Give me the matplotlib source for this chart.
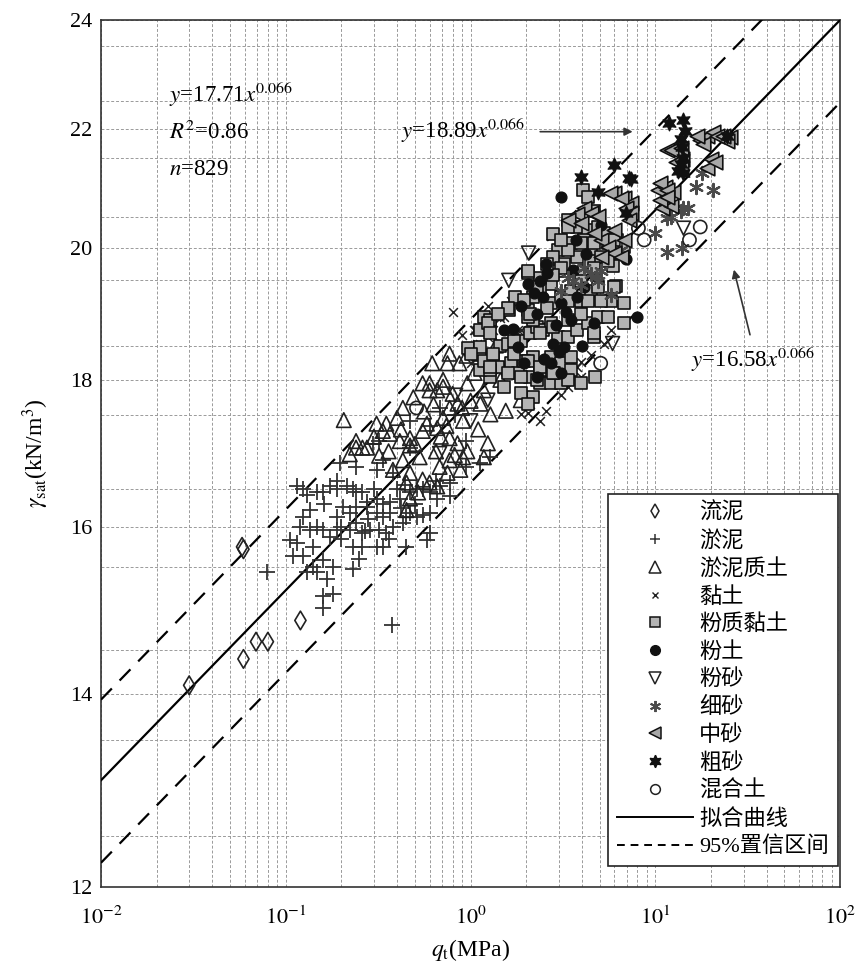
import numpy as np
import matplotlib.pyplot as plt
from matplotlib.lines import Line2D
from matplotlib.ticker import FixedLocator, LogLocator, NullFormatter, FuncFormatter

plt.rcParams['font.family'] = ['Liberation Serif', 'Noto Sans CJK SC']
plt.rcParams['mathtext.fontset'] = 'stix'

# ---- data: q_t (MPa), gamma_sat (kN/m3) ----
# 流泥
liuni_q = [0.030, 0.058, 0.059, 0.059, 0.069, 0.080, 0.12]
liuni_g = [14.1, 15.75, 15.72, 14.4, 14.6, 14.6, 14.85]

# 淤泥
yuni_q = [0.115, 0.124, 0.13, 0.159, 0.173, 0.189, 0.214, 0.23, 0.26, 0.31, 0.335, 0.366, 0.414, 0.47,
          0.51, 0.55, 0.60, 0.68, 0.77,
          0.124, 0.147, 0.159, 0.173, 0.189, 0.222, 0.24, 0.26, 0.285, 0.32, 0.35, 0.38, 0.43, 0.47, 0.51,
          0.105, 0.115, 0.109, 0.124, 0.14, 0.159, 0.18, 0.23, 0.26, 0.31, 0.335, 0.13, 0.147, 0.167, 0.079,
          0.23, 0.159, 0.18, 0.159, 0.375, 0.60, 0.58, 0.45,
          0.204, 0.24, 0.275, 0.31, 0.335, 0.366, 0.222, 0.189, 0.135,
          0.196, 0.24, 0.31, 0.335, 0.38, 0.47, 0.295, 0.32, 0.47, 0.68, 0.95, 1.13, 1.28,
          0.147, 0.24, 0.275, 0.40, 0.66, 0.77, 0.60, 0.45, 0.135, 0.60, 0.82, 0.94,
          0.20, 0.28, 0.16, 0.25, 0.20, 0.30, 0.42, 0.50, 0.12, 0.14, 0.36, 0.44, 0.55, 0.65, 0.27, 0.19]
yuni_g = [16.53, 16.49, 16.42, 16.45, 16.53, 16.49, 16.53, 16.49, 16.45, 16.37, 16.3, 16.33, 16.37, 16.45,
          16.49, 16.49, 16.45, 16.53, 16.58,
          16.13, 16.0, 15.96, 15.88, 15.96, 15.96, 16.05, 15.92, 15.96, 15.96, 15.92, 16.0, 16.05, 16.18, 16.13,
          15.84, 15.8, 15.63, 15.63, 15.5, 15.59, 15.5, 15.75, 15.75, 15.75, 15.75, 15.44, 15.44, 15.35, 15.44,
          15.47, 15.14, 15.17, 15.0, 14.8, 15.92, 15.84, 15.75,
          16.26, 16.26, 16.26, 16.18, 16.13, 16.18, 16.18, 16.13, 16.22,
          16.84, 16.79, 16.75, 16.88, 16.71, 17.05, 17.1, 17.14, 17.42, 17.6, 16.79, 16.84, 16.92,
          16.45, 16.45, 16.33, 16.49, 16.37, 16.4, 16.18, 16.13, 15.96, 17.35, 17.5, 17.14,
          16.0, 16.1, 16.3, 15.6, 15.85, 16.5, 16.25, 16.3, 16.0, 15.75, 15.85, 16.55, 16.15, 16.6, 15.95, 16.6]

# 淤泥质土
yunizt_q = [0.206, 0.24, 0.222, 0.275, 0.32, 0.366, 0.35, 0.40, 0.43, 0.49, 0.414, 0.47, 0.58, 0.66,
            0.71, 0.77, 0.85, 0.66, 0.60, 0.71, 0.75, 0.62, 0.87, 0.77, 0.96, 1.18, 1.13, 1.28, 0.91,
            0.85, 0.96, 0.77, 0.68, 0.53, 0.43, 0.47, 0.55, 0.66, 0.75, 0.88, 1.24, 1.18, 0.45, 0.335,
            0.24, 1.45, 1.65, 1.37, 1.87, 1.55, 0.26, 0.31, 0.60, 0.71, 0.55, 0.77, 0.91, 0.60, 0.45,
            0.47, 0.47,
            0.30, 0.36, 0.42, 0.50, 0.56, 0.63, 0.69, 0.74, 0.80, 0.90, 1.0, 1.05, 1.2, 0.95, 0.55,
            0.65, 0.82, 1.1, 0.38, 0.52]
yunizt_g = [17.43, 17.14, 16.96, 17.05, 16.94, 17.24, 17.38, 17.46, 17.6, 17.75, 17.14, 17.18, 17.38, 17.32,
            17.46, 17.6, 17.66, 17.85, 17.95, 18.0, 18.24, 18.24, 18.24, 18.38, 17.95, 17.85, 17.66, 17.51, 17.42,
            17.11, 17.0, 16.88, 16.79, 16.92, 16.88, 16.71, 16.62, 16.53, 16.71, 16.75, 17.11, 16.92, 16.22, 17.28,
            17.05, 18.0, 18.28, 18.5, 17.71, 17.56, 17.05, 17.38, 17.85, 17.9, 17.28, 17.18, 16.92, 16.58, 16.58,
            16.37, 17.08,
            17.2, 17.0, 17.3, 17.1, 17.55, 17.65, 17.2, 17.35, 17.8, 17.6, 17.7, 18.1, 18.2, 18.35, 17.95,
            17.0, 16.95, 17.3, 16.75, 16.45]

# 黏土
niantu_q = [0.80, 1.51, 1.80, 2.04, 3.94, 3.79, 3.35, 1.45, 1.06, 1.33, 1.87, 2.19, 3.94, 5.25, 2.11,
            2.39, 2.04, 1.87, 3.35, 1.09, 1.13, 1.24, 1.0, 1.04, 1.09, 3.07, 2.55, 4.46, 5.73, 2.71, 1.65,
            1.25, 0.90]
niantu_g = [19.0, 18.92, 18.73, 18.68, 18.04, 18.19, 17.9, 18.91, 18.73, 18.73, 18.73, 18.73, 18.26, 18.53, 17.66,
            17.42, 17.53, 17.52, 18.04, 18.73, 18.53, 18.62, 18.24, 18.73, 18.53, 17.78, 17.56, 18.36, 18.73, 18.28,
            19.17, 19.1, 18.65]

# 粉质黏土
fzniantu_q = [2.04, 1.75, 1.61, 1.18, 1.28, 1.45, 1.0, 1.13, 1.33, 1.59, 1.87, 2.11, 2.3, 2.48, 2.71, 2.96,
              3.35, 3.79, 4.3, 4.87, 4.63, 6.74, 6.74, 2.71, 3.07, 3.48, 2.71, 2.39, 2.96, 3.19, 3.79, 2.96,
              3.48, 4.09, 4.46, 4.09, 4.63, 2.19, 2.04, 2.19, 1.65, 1.8, 2.11, 2.39, 2.71, 3.07, 3.48, 2.19,
              1.94, 2.39, 2.71, 3.07, 2.84, 3.48, 4.74, 2.19, 1.87, 1.51, 1.28, 1.4, 1.13, 2.04, 4.04, 4.3,
              3.35, 3.79, 4.3, 4.87, 5.25, 4.09, 4.63, 5.52, 6.24, 3.35, 4.46, 5.06, 5.94, 6.74, 2.81, 3.07,
              2.78, 2.04, 0.97, 1.13, 1.28, 1.71, 2.04, 1.24, 1.18, 1.28, 5.87, 6.1, 5.73, 3.94, 4.46, 5.06,
              2.39, 2.81, 3.94, 4.63, 3.35, 3.07, 2.6, 2.3, 1.94, 1.59, 1.4, 1.28, 1.13, 1.0, 1.33, 1.71,
              2.04, 2.39, 2.81, 3.35, 3.94, 2.3, 1.87, 1.59, 1.28, 4.63, 5.52, 5.94, 4.87, 4.3, 3.94, 3.35,
              2.81, 2.39, 2.11, 2.6, 3.35, 3.94, 4.63, 5.52, 5.94]
fzniantu_g = [19.61, 19.23, 19.03, 18.92, 18.83, 18.5, 18.43, 18.36, 18.33, 18.53, 18.57, 18.68, 18.77, 18.73,
              18.83, 18.62, 18.62, 18.73, 18.83, 18.92, 18.62, 19.14, 18.83, 19.14, 19.23, 19.33, 19.44, 19.53,
              19.64, 19.75, 19.85, 19.97, 20.08, 20.13, 19.97, 19.64, 19.64, 19.23, 19.03, 18.88, 18.24, 18.1,
              18.04, 18.14, 18.33, 18.24, 18.33, 18.33, 18.28, 17.96, 17.96, 17.96, 18.1, 18.14, 18.04, 17.75,
              17.81, 17.9, 18.04, 18.19, 18.14, 17.66, 20.95, 20.83, 20.45, 20.34, 20.29, 20.34, 20.24, 20.13,
              20.08, 20.08, 20.13, 19.97, 19.8, 19.85, 19.92, 20.02, 19.85, 19.69, 20.23, 19.64, 18.46, 18.73,
              18.88, 18.57, 18.92, 18.83, 18.28, 18.14, 19.72, 19.4, 19.17, 19.17, 19.33, 19.17,
              19.39, 19.57, 20.08, 20.6, 20.34, 20.13, 19.75, 19.39, 19.18, 19.07, 18.98, 18.68, 18.48, 18.38,
              18.38, 18.38, 18.28, 18.19, 18.1, 18.0, 17.96, 18.0, 18.04, 18.1, 18.19, 18.68, 18.92, 19.39,
              19.39, 19.17, 18.98, 18.88, 18.77, 18.68, 18.98, 19.07, 19.17, 19.48, 19.69, 19.8, 20.13]

# 粉土
fentu_q = [3.07, 6.9, 8.0, 2.04, 2.39, 2.48, 3.07, 3.79, 4.09, 4.63, 2.81, 3.19, 2.71, 1.8, 1.94, 3.07,
           2.3, 1.51, 2.3, 2.55, 3.7, 5.06, 1.87, 3.48,
           2.2, 2.6, 3.3, 4.2, 3.0, 2.5, 1.7, 4.0, 2.9, 3.6]
fentu_g = [20.83, 19.83, 18.92, 19.44, 19.48, 19.23, 19.14, 19.23, 19.38, 18.83, 18.53, 18.48, 18.24, 18.48,
           18.24, 18.1, 18.04, 18.73, 18.98, 19.75, 20.13, 20.37, 19.1, 18.88,
           19.3, 19.6, 19.0, 19.9, 18.4, 18.3, 18.75, 18.5, 18.8, 19.65]

# 粉砂
fensha_q = [14.2, 5.87, 2.06, 1.61, 0.68, 1.0, 0.83, 1.24]
fensha_g = [20.32, 18.53, 19.92, 19.49, 16.97, 17.42, 17.78, 17.71]

# 细砂
xisha_q = [10.0, 11.6, 14.0, 16.5, 20.4, 14.2, 15.1, 12.1, 13.7, 11.5, 5.73, 17.9, 4.09, 4.46, 4.87, 3.6,
           3.35, 3.07, 3.94, 5.06, 6.49]
xisha_g = [20.24, 19.94, 20.0, 21.0, 20.95, 20.65, 20.65, 20.5, 20.6, 20.48, 19.27, 21.23, 19.69, 19.59, 19.48,
           19.48, 19.53, 19.33, 19.41, 19.64, 19.97]

# 中砂
zhongsha_q = [5.94, 6.74, 7.35, 7.2, 11.6, 13.1, 14.0, 13.7, 10.4, 11.3, 12.4, 10.9, 12.1, 17.5, 19.1, 20.4,
              18.2, 19.9, 19.1, 21.1, 25.5, 24.5, 5.7, 6.49, 6.9, 7.35, 7.2, 4.09, 4.46, 4.87, 3.79, 3.35,
              10.6, 11.6, 10.6, 11.6, 12.1, 13.7, 12.9, 6.74, 5.94, 5.06, 5.52, 4.63, 3.94, 5.94, 6.49, 5.06,
              16.9, 21.6, 23.1]
zhongsha_g = [20.9, 20.82, 20.74, 20.57, 21.63, 21.6, 21.47, 21.3, 20.95, 21.0, 20.92, 20.65, 20.69, 21.8, 21.88,
              21.95, 21.73, 21.47, 21.33, 21.43, 21.86, 21.78, 20.9, 20.82, 20.65, 20.57, 20.45, 20.65, 20.57, 20.52,
              20.55, 20.45, 21.07, 20.95, 20.78, 20.83, 21.63, 21.66, 21.43, 20.13, 20.29, 20.13, 20.02, 20.24, 20.4,
              19.92, 19.85, 19.85, 21.88, 21.88, 21.88]

# 粗砂
cusha_q = [11.8, 14.2, 14.5, 13.7, 14.0, 14.2, 13.7, 13.3, 14.2, 5.94, 7.35, 6.9, 24.5, 3.94, 4.87, 7.2]
cusha_g = [22.11, 22.16, 21.96, 21.82, 21.68, 21.5, 21.39, 21.27, 21.23, 21.38, 21.13, 20.57, 21.88, 21.17,
           20.92, 21.16]

# 混合土
hunhe_q = [8.1, 8.7, 15.3, 17.5, 5.06, 0.51]
hunhe_g = [20.32, 20.13, 20.13, 20.34, 18.24, 17.6]

# fit curve y = a * x^b and 95% band
fit_a = [17.71, 18.89, 16.58]
fit_b = 0.066

fig = plt.figure(figsize=(8.67, 9.66), dpi=100)
ax = fig.add_axes([0.1165, 0.0818, 0.8525, 0.8975])
ax.set_xscale('log')
ax.set_yscale('log')
ax.set_xlim(0.01, 100)
ax.set_ylim(12, 24)

# grid
yt_major = [12, 14, 16, 18, 20, 22, 24]
yt_minor = list(np.arange(12.5, 24, 1.0))
ax.yaxis.set_major_locator(FixedLocator(yt_major))
ax.yaxis.set_minor_locator(FixedLocator(yt_minor))
ax.yaxis.set_major_formatter(FuncFormatter(lambda v, p: '%d' % v))
ax.yaxis.set_minor_formatter(NullFormatter())
ax.xaxis.set_major_locator(LogLocator(base=10, numticks=10))
ax.xaxis.set_minor_locator(LogLocator(base=10, subs=np.arange(2, 10), numticks=20))
ax.xaxis.set_major_formatter(FuncFormatter(lambda v, p: r'$10^{%d}$' % round(np.log10(v))))
ax.xaxis.set_minor_formatter(NullFormatter())
ax.grid(True, which='both', ls=(0, (3, 2)), color='#9a9a9a', lw=0.7)
ax.tick_params(which='both', length=0, labelsize=16)
ax.tick_params(axis='x', pad=14)
ax.tick_params(axis='y', pad=6)
for s in ax.spines.values():
    s.set_linewidth(1.2)
    s.set_color('#333333')
ax.set_axisbelow(True)

# fit lines
xx = np.logspace(-2, 2, 200)
ax.plot(xx, fit_a[0] * xx ** fit_b, color='k', lw=1.6, zorder=3)
ax.plot(xx, fit_a[1] * xx ** fit_b, color='k', lw=1.6, dashes=(7, 5), zorder=3)
ax.plot(xx, fit_a[2] * xx ** fit_b, color='k', lw=1.6, dashes=(7, 5), zorder=3)

ew = 1.2
ax.scatter(liuni_q, liuni_g, marker='d', s=90, facecolors='none', edgecolors='#222', linewidths=ew, zorder=4)
ax.scatter(yuni_q, yuni_g, marker='+', s=140, color='#333', linewidths=1.3, zorder=4)
ax.scatter(yunizt_q, yunizt_g, marker='^', s=110, facecolors='none', edgecolors='#222', linewidths=ew, zorder=4)
ax.scatter(niantu_q, niantu_g, marker='x', s=40, color='#222', linewidths=1.1, zorder=4)
ax.scatter(fzniantu_q, fzniantu_g, marker='s', s=70, facecolors='#b4b4b4', edgecolors='#111', linewidths=ew, zorder=5)
ax.scatter(fentu_q, fentu_g, marker='o', s=60, color='#111', zorder=5)
ax.scatter(fensha_q, fensha_g, marker='v', s=100, facecolors='none', edgecolors='#222', linewidths=ew, zorder=5)
ax.scatter(xisha_q, xisha_g, marker=(6, 2, 0), s=90, color='#4a4a4a', linewidths=1.6, zorder=5)
ax.scatter(zhongsha_q, zhongsha_g, marker='<', s=110, facecolors='#a8a8a8', edgecolors='#111', linewidths=ew, zorder=5)
ax.scatter(cusha_q, cusha_g, marker=(6, 1, 0), s=110, color='#111', zorder=5)
ax.scatter(hunhe_q, hunhe_g, marker='o', s=90, facecolors='none', edgecolors='#222', linewidths=ew, zorder=5)

# annotations
fs = 16.5
ax.text(0.0232, 22.62, r'$y$=17.71$x^{0.066}$', fontsize=fs, va='center')
ax.text(0.0232, 21.93, r'$R^2$=0.86', fontsize=fs, va='center')
ax.text(0.0232, 21.3, r'$n$=829', fontsize=fs, va='center')
ax.text(0.42, 21.97, r'$y$=18.89$x^{0.066}$', fontsize=fs, va='center')
ax.annotate('', xy=(7.8, 21.95), xytext=(2.3, 21.95),
            arrowprops=dict(arrowstyle='-|>', color='#333', lw=1.2, mutation_scale=12))
ax.text(15.5, 18.3, r'$y$=16.58$x^{0.066}$', fontsize=fs, va='center')
ax.annotate('', xy=(26.4, 19.7), xytext=(32.8, 18.62),
            arrowprops=dict(arrowstyle='-|>', color='#333', lw=1.2, mutation_scale=12))

ax.set_xlabel(r'$q_{\rm t}$(MPa)', fontsize=17, labelpad=6)
ax.set_ylabel(r'$\gamma_{\rm sat}$(kN/m$^3$)', fontsize=17, labelpad=14)

# legend
names = ['流泥', '淤泥', '淤泥质土', '黏土', '粉质黏土', '粉土', '粉砂', '细砂', '中砂', '粗砂', '混合土']
handles = [
    Line2D([], [], ls='none', marker='d', ms=7, mfc='none', mec='#222', mew=1.1),
    Line2D([], [], ls='none', marker='+', ms=7, color='#333', mew=1.1),
    Line2D([], [], ls='none', marker='^', ms=8, mfc='none', mec='#222', mew=1.1),
    Line2D([], [], ls='none', marker='x', ms=5, color='#222', mew=1.0),
    Line2D([], [], ls='none', marker='s', ms=7, mfc='#b4b4b4', mec='#111', mew=1.1),
    Line2D([], [], ls='none', marker='o', ms=7, color='#111'),
    Line2D([], [], ls='none', marker='v', ms=8, mfc='none', mec='#222', mew=1.1),
    Line2D([], [], ls='none', marker=(6, 2, 0), ms=8, color='#4a4a4a', mew=1.4),
    Line2D([], [], ls='none', marker='<', ms=8, mfc='#a8a8a8', mec='#111', mew=1.1),
    Line2D([], [], ls='none', marker=(6, 1, 0), ms=9, color='#111'),
    Line2D([], [], ls='none', marker='o', ms=7, mfc='none', mec='#222', mew=1.1),
    Line2D([], [], color='k', lw=1.4),
    Line2D([], [], color='k', lw=1.4, dashes=(4, 3)),
]
labels = names + ['拟合曲线', '95%置信区间']
leg = ax.legend(handles, labels, loc='lower right', bbox_to_anchor=(0.997, 0.024), borderaxespad=0,
                fontsize=16, handlelength=3.4, handletextpad=0.3, labelspacing=0.31,
                fancybox=False, framealpha=1, edgecolor='#222', borderpad=0.4)
leg.get_frame().set_linewidth(1.2)
leg.set_zorder(10)

fig.savefig('out.png', dpi=100)
